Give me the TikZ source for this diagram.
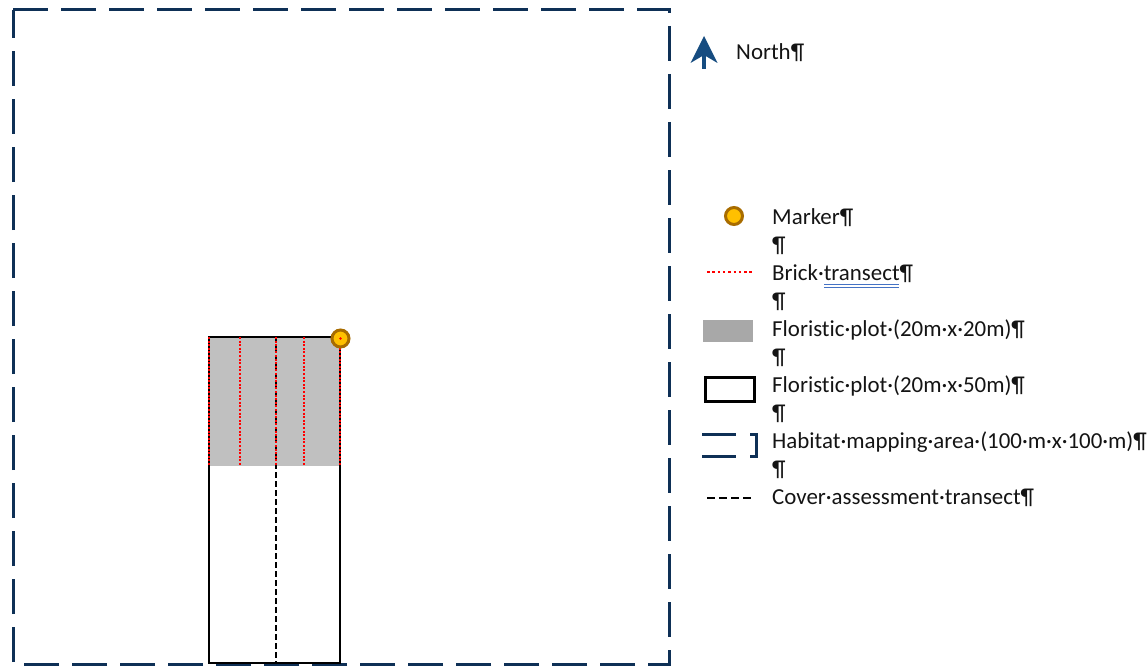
\documentclass[tikz,border=0pt]{standalone}
\usepackage{fontspec}
\setmainfont{Carlito}[Ligatures={NoCommon}]
\definecolor{navy}{RGB}{14,48,86}
\definecolor{northblue}{RGB}{22,76,128}
\definecolor{plotgrey}{RGB}{192,192,192}
\definecolor{leggrey}{RGB}{168,168,168}
\definecolor{markfill}{RGB}{255,192,0}
\definecolor{markedge}{RGB}{168,108,0}
\definecolor{spellblue}{RGB}{68,114,196}
\begin{document}
\begin{tikzpicture}[x=1pt,y=-1pt,
  lbl/.style={anchor=base west,inner sep=0pt,font=\fontsize{22.9}{27}\selectfont,text=black!92},
  habitat/.style={draw=navy,line width=3pt,dash pattern=on 35pt off 13pt},
  plotedge/.style={draw=black,line width=2pt},
  bricks/.style={draw=red,line width=2.4pt,dash pattern=on 2pt off 1.6pt},
  legbricks/.style={draw=red,line width=2.4pt,dash pattern=on 2.5pt off 2.8pt},
  cover/.style={draw=black,line width=2pt,dash pattern=on 6pt off 3pt},
  markerdot/.style={circle,fill=markfill,draw=markedge,line width=3pt,minimum size=17pt,inner sep=0pt}]
\useasboundingbox (0,0) rectangle (1148,666);
% habitat mapping area
\draw[habitat] (13,10) -- (669,10) -- (669,664) -- (13,664) -- cycle;
% plot
\coordinate (ptl) at (209,337);
\coordinate (pbr) at (340,663);
\fill[plotgrey] (209,337) rectangle (340,466);
\draw[plotedge] (ptl) rectangle (pbr);
\coordinate (ct) at (276,337);
\coordinate (cb) at (276,663);
\draw[cover] (ct) -- (cb);
\foreach \xx in {209,240,276,304,340}{
  \draw[bricks] (\xx,337) -- (\xx,466);
}
\node[markerdot] (plotmarker) at (340.5,338.5) {};
\fill[red] (340.5,338.5) circle (1.4pt);
% north arrow
\coordinate (nbase) at (704,69);
\coordinate (ntip) at (704,36);
\draw[northblue,line width=4pt] (nbase) -- (704,52);
\fill[northblue] (ntip) -- (717.5,63) -- (704,55) -- (690.5,63) -- cycle;
\node[lbl] (north) at (736,60) {North¶};
% legend
\node[markerdot] (legmarker) at (734,216) {};
\node[lbl] (t1) at (772,224) {Marker¶};
\node[lbl] at (772,252) {¶};
\coordinate (b1) at (707,272);
\coordinate (b2) at (752,272);
\draw[legbricks] (b1) -- (b2);
\node[lbl] (t2) at (772,280) {Brick·transect¶};
\draw[spellblue,line width=0.8pt] (824,284.5) -- (899,284.5) (824,287.5) -- (899,287.5);
\node[lbl] at (772,308) {¶};
\fill[leggrey] (703,320) rectangle (753,342);
\node[lbl] (t3) at (772,336) {Floristic·plot·(20m·x·20m)¶};
\node[lbl] at (772,364) {¶};
\draw[black,line width=3pt] (705,377) rectangle (754,401);
\node[lbl] (t4) at (772,392) {Floristic·plot·(20m·x·50m)¶};
\node[lbl] at (772,420) {¶};
\draw[navy,line width=3pt] (702,434) -- (736,434) (702,456) -- (736,456);
\draw[navy,line width=3pt] (750,434) -- (756,434) -- (756,456) -- (750,456);
\node[lbl] (t5) at (772,448) {Habitat·mapping·area·(100·m·x·100·m)¶};
\node[lbl] at (772,476) {¶};
\coordinate (c1) at (707,498);
\coordinate (c2) at (753,498);
\draw[black,line width=2pt,dash pattern=on 8pt off 4pt] (c1) -- (c2);
\node[lbl] (t6) at (772,504) {Cover·assessment·transect¶};
\end{tikzpicture}
\end{document}
